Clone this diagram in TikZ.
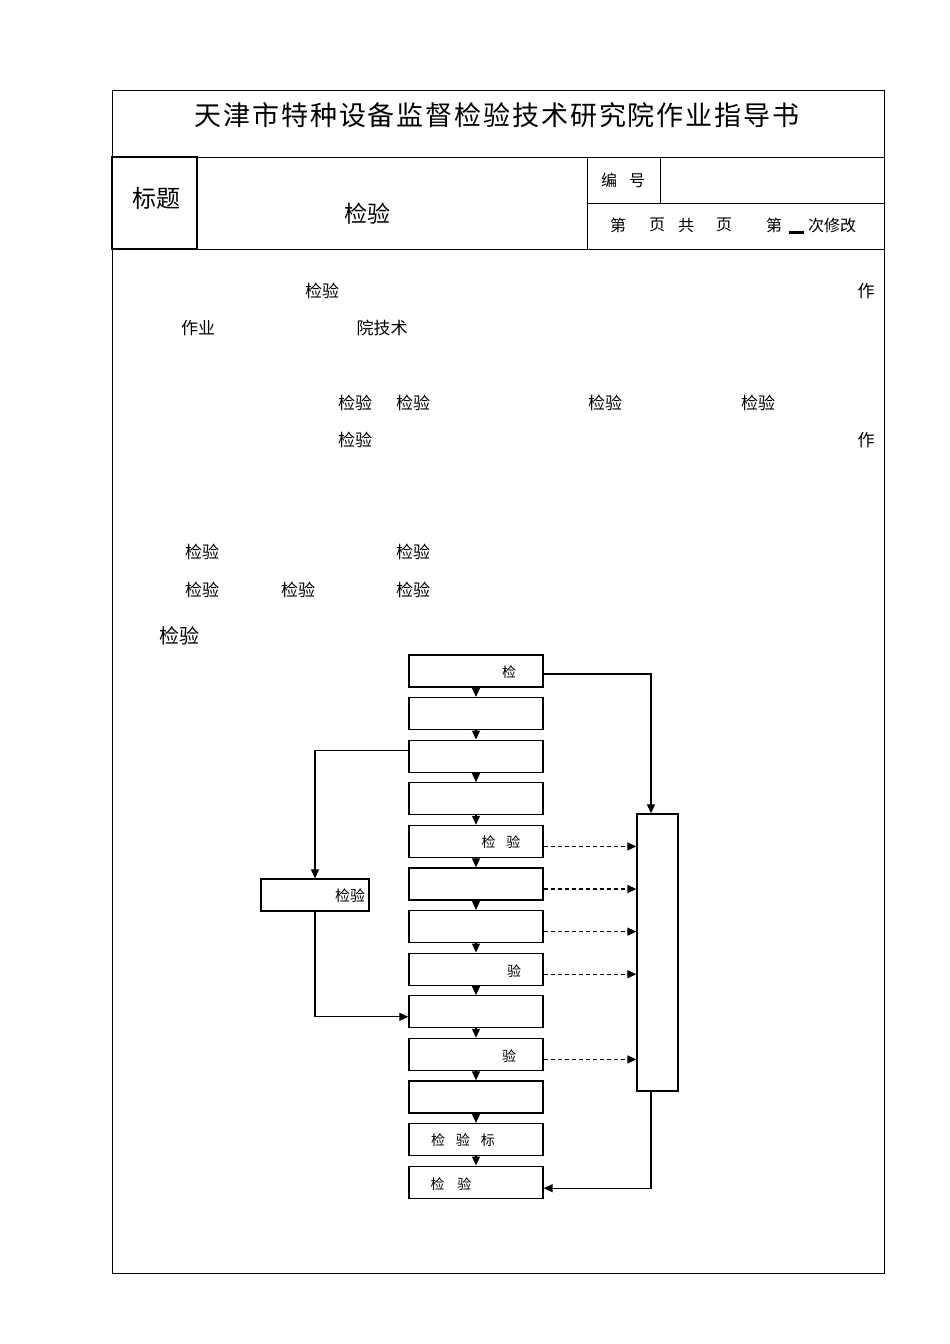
\documentclass[tikz,border=0pt]{standalone}
\usepackage{fontspec}
\setmainfont{Noto Sans CJK SC}
\usetikzlibrary{arrows.meta}
\begin{document}
\begin{tikzpicture}[x=1pt, y=-1pt,
    stepbox/.style={draw, line width=1.3pt, minimum width=134pt, minimum height=32pt, inner sep=0pt},
    tag/.style={inner sep=0pt, font=\fontsize{14}{14}\selectfont},
    body/.style={inner sep=0pt, font=\fontsize{17}{17}\selectfont},
    head/.style={inner sep=0pt, font=\fontsize{16}{16}\selectfont},
    flow/.style={line width=1.2pt, -{Triangle[length=9pt,width=8pt]}},
    aux/.style={flow, dash pattern=on 4pt off 3pt}
  ]
  \useasboundingbox (0,0) rectangle (950,1344);
  % form frame
  \draw[line width=1pt] (112,90) rectangle (884,1273);
  \draw[line width=1pt] (112,157) -- (884,157) (112,249) -- (884,249);
  \draw[line width=1pt] (587,157) -- (587,249) (587,203) -- (884,203) (660,157) -- (660,203);
  \draw[line width=2pt] (112,157) rectangle (197,249);
  \node[inner sep=0pt, font=\fontsize{27}{27}\selectfont\addfontfeatures{LetterSpace=7}] (title) at (497,115) {天津市特种设备监督检验技术研究院作业指导书};
  \node[inner sep=0pt, font=\fontsize{24}{24}\selectfont] (lbl) at (156,198) {标题};
  \node[inner sep=0pt, font=\fontsize{23}{23}\selectfont] (name) at (367,214) {检验};
  \node[head] (no) at (623,180) {编\hspace{12pt}号};
  \node[head] (p1) at (618,225) {第};
  \node[head] (p2) at (657,225) {页};
  \node[head] (p3) at (686,225) {共};
  \node[head] (p4) at (724,225) {页};
  \node[head] (p5) at (774,225) {第};
  \node[head] (p6) at (832,225) {次修改};
  \draw[line width=3pt] (789,232) -- (804,232);
  % body text
  \node[body] (a1) at (322,291) {检验};
  \node[body] (a2) at (866,291) {作};
  \node[body] (a3) at (198,328) {作业};
  \node[body] (a4) at (382,328) {院技术};
  \node[body] (a5) at (355,403) {检验};
  \node[body] (a6) at (413,403) {检验};
  \node[body] (a7) at (605,403) {检验};
  \node[body] (a8) at (758,403) {检验};
  \node[body] (a9) at (355,440) {检验};
  \node[body] (a10) at (866,440) {作};
  \node[body] (c1) at (202,552) {检验};
  \node[body] (c2) at (413,552) {检验};
  \node[body] (c3) at (202,590) {检验};
  \node[body] (c4) at (298,590) {检验};
  \node[body] (c5) at (413,590) {检验};
  \node[inner sep=0pt, font=\fontsize{20}{20}\selectfont] (c6) at (179,636) {检验};
  % flow chart
  \foreach \i in {1,...,13}
    \node[stepbox] (b\i) at (476,{671+42.6*(\i-1)}) {};
  \foreach \i [evaluate=\i as \j using int(\i+1)] in {1,...,12}
    \draw[flow] (b\i.south) -- (b\j.north);
  \node[stepbox, minimum width=108pt] (side) at (315,895) {};
  \node[stepbox, minimum width=41pt, minimum height=277pt] (rec) at (657.5,952.5) {};
  \node[tag] (t1) at (509,672) {检};
  \node[tag] (t5) at (501,842) {检\hspace{11pt}验};
  \node[tag] (t8) at (514,971) {验};
  \node[tag] (t10) at (509,1056) {验};
  \node[tag] (t12) at (463,1140) {检\hspace{11pt}验\hspace{11pt}标};
  \node[tag] (t13) at (451,1184) {检\hspace{13pt}验};
  \node[tag, font=\fontsize{15}{15}\selectfont] (ts) at (350,896) {检验};
  \draw[flow] ([yshift=-3pt]b1.east) -| ([xshift=-6.5pt]rec.north);
  \draw[flow] ([yshift=6pt]b3.west) -| (side.north);
  \draw[flow] (side.south) |- ([yshift=-5pt]b9.west);
  \foreach \i in {5,6,7,8,10}
    \draw[aux] ([yshift=-5pt]b\i.east) -- ([yshift=-5pt]b\i.east -| rec.west);
  \draw[flow] ([xshift=-6.5pt]rec.south) |- ([yshift=-6pt]b13.east);
\end{tikzpicture}
\end{document}
